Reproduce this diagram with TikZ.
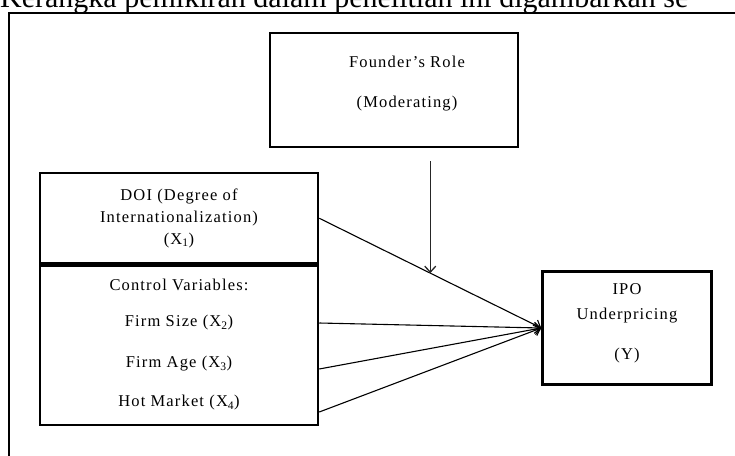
\documentclass[tikz,border=0pt]{standalone}
\usepackage{fontspec}
\setmainfont{Liberation Serif}
\newfontfamily\kotakfont[LetterSpace=7]{Liberation Serif}
\usetikzlibrary{arrows.meta,positioning,calc}
\tikzset{
  kotak/.style={draw,line width=2.5pt,inner sep=0pt,align=center},
  teks/.style={inner sep=0pt,align=center},
  panah/.style={line width=1.1pt,-{Straight Barb[length=6pt,width=11pt]}},
}
\newcommand{\hurufkotak}[1]{\kotakfont\fontsize{16.5}{#1}\selectfont}

\begin{document}
\begin{tikzpicture}[x=1pt,y=-1pt]
  \useasboundingbox (0,0) rectangle (735,455);
  \node[anchor=base west,inner sep=0pt,font=\fontsize{30}{30}\selectfont] (judul) at (0,7)
    {Kerangka pemikiran dalam penelitian ini digambarkan se};
  % bingkai luar
  \draw[line width=2pt] (9,462) -- (9,13) -- (742,13);
  \node[kotak,minimum width=248pt,minimum height=114pt,font=\hurufkotak{22}] (peran) at (394,90)
    {\hspace*{26pt}Founder’s Role\\[18pt]\hspace*{26pt}(Moderating)\rule[-16pt]{0pt}{0pt}};
  \node[kotak,minimum width=278pt,minimum height=90.5pt,font=\hurufkotak{22}] (doi) at (179,218.25)
    {DOI (Degree of\\Internationalization)\\(X\textsubscript{1})};
  \node[kotak,minimum width=278pt,minimum height=159pt] (kontrol) at (179,345.5) {};
  \node[teks,font=\hurufkotak{22}] (kvar) at (179,285) {Control Variables:};
  \node[teks,font=\hurufkotak{22}] (ukuran) at (179,323) {Firm Size (X\textsubscript{2})};
  \node[teks,font=\hurufkotak{22}] (umur) at (179,364) {Firm Age (X\textsubscript{3})};
  \node[teks,font=\hurufkotak{22}] (pasar) at (179,403) {Hot Market (X\textsubscript{4})};
  \node[kotak,minimum width=169pt,minimum height=113pt,font=\hurufkotak{25}] (ipo) at (627,328)
    {IPO\\Underpricing\\[15pt](Y)\rule[-12pt]{0pt}{0pt}};
  % panah ke Y
  \coordinate (tengah) at ($(doi.east)!0.5!(ipo.west)$);
  \draw[panah] (doi.east) -- (ipo.west);
  \draw[panah] (kontrol.east |- ukuran) -- (ipo.west);
  \draw[panah] ($(kontrol.east |- umur)+(0,5)$) -- (ipo.west);
  \draw[panah] ($(kontrol.east |- pasar)+(0,9)$) -- (ipo.west);
  % moderasi
  \draw[panah,black!85,line width=1.3pt] ($(peran.south -| tengah)+(0,13)$) -- (tengah);
\end{tikzpicture}
\end{document}
